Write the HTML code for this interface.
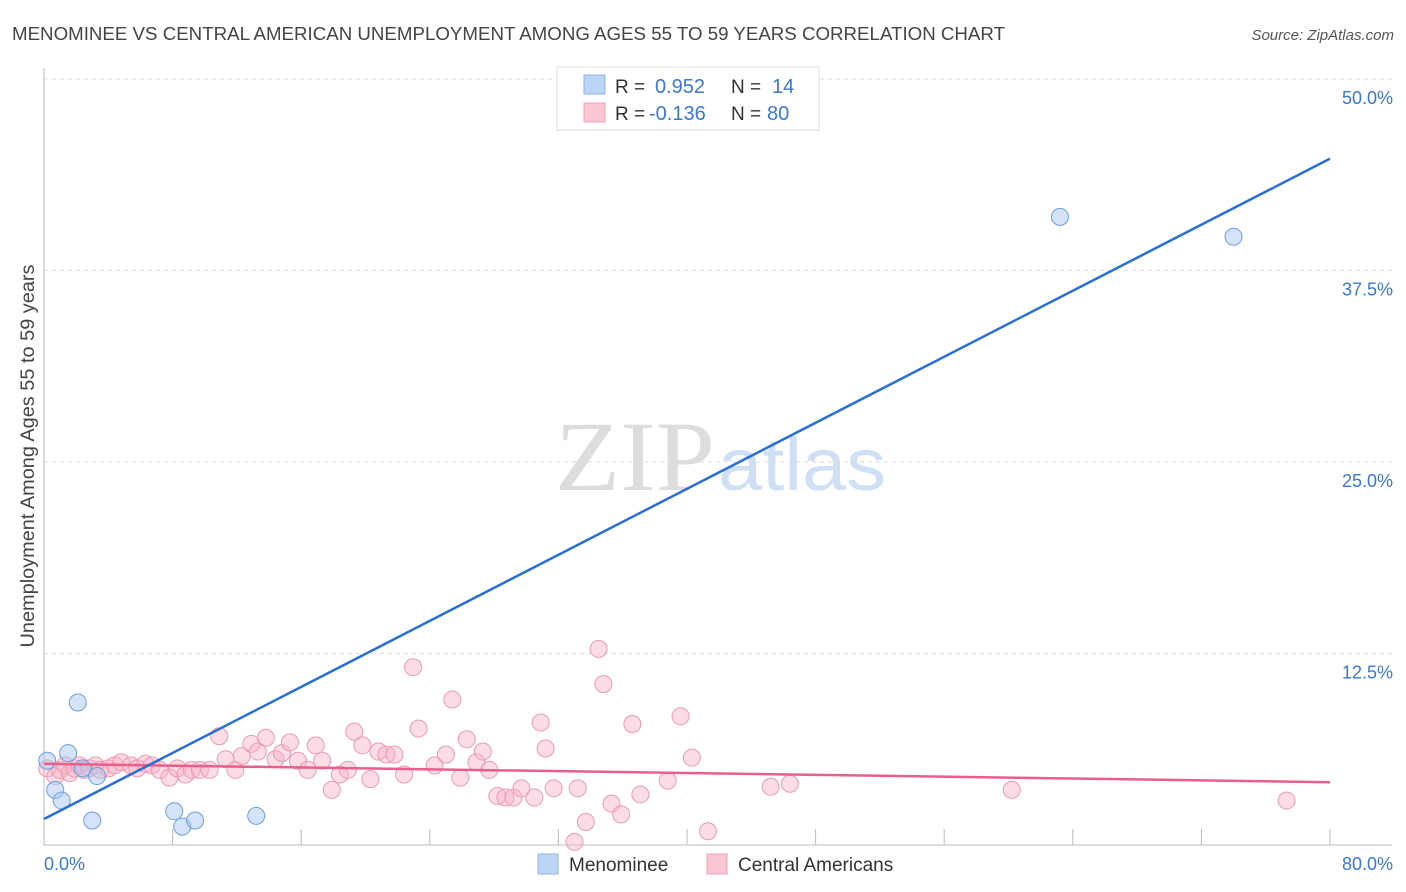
<!DOCTYPE html>
<html><head><meta charset="utf-8"><style>
body{margin:0;background:#fff;font-family:"Liberation Sans",sans-serif;}
svg{display:block}
</style></head><body>
<svg width="1406" height="892">
<text x="12" y="40" font-size="18" fill="#444" textLength="993" lengthAdjust="spacingAndGlyphs">MENOMINEE VS CENTRAL AMERICAN UNEMPLOYMENT AMONG AGES 55 TO 59 YEARS CORRELATION CHART</text>
<text x="1394" y="40" font-size="15" fill="#555" font-style="italic" text-anchor="end">Source: ZipAtlas.com</text>
<text x="555" y="490" font-size="100" fill="#ddd" textLength="160" lengthAdjust="spacingAndGlyphs" font-family="Liberation Serif,serif">ZIP</text>
<text x="718" y="490" font-size="74" fill="#cfe0f4" textLength="168" lengthAdjust="spacingAndGlyphs">atlas</text>
<g id="grid"></g>
<line x1="44" y1="68" x2="44" y2="845" stroke="#bbb"/>
<line x1="44" y1="845" x2="1392" y2="845" stroke="#bbb"/>
<g id="xticks"></g>
<text x="34" y="456" font-size="19" fill="#444" text-anchor="middle" textLength="383" lengthAdjust="spacingAndGlyphs" transform="rotate(-90 34 456)">Unemployment Among Ages 55 to 59 years</text>
<text x="44" y="870" font-size="18" fill="#3a78d4">0.0%</text>
<text x="1393" y="870" font-size="18" fill="#3a78d4" text-anchor="end">80.0%</text>
<g id="pts"></g>
<g id="lines"></g>
<g>
<rect x="557" y="67" width="262" height="63" fill="#fff" stroke="#ddd"/>
<rect x="584" y="75" width="21" height="19" fill="#bcd4f6" stroke="#8fb2e6"/>
<rect x="584" y="103" width="21" height="19" fill="#fbc7d5" stroke="#f0a0b8"/>
<text x="615" y="93" font-size="19" fill="#333">R =</text>
<text x="655" y="93" font-size="20" fill="#3a78d4">0.952</text>
<text x="731" y="93" font-size="19" fill="#333">N =</text>
<text x="772" y="93" font-size="20" fill="#3a78d4">14</text>
<text x="615" y="120" font-size="19" fill="#333">R =</text>
<text x="649" y="120" font-size="20" fill="#3a78d4">-0.136</text>
<text x="731" y="120" font-size="19" fill="#333">N =</text>
<text x="767" y="120" font-size="20" fill="#3a78d4">80</text>
</g>
<g><rect x="538" y="854" width="20" height="20" fill="#bcd4f6" stroke="#8fb2e6"/><text x="569" y="871" font-size="19" fill="#333">Menominee</text></g>
<g><rect x="707" y="854" width="20" height="20" fill="#fbc7d5" stroke="#f0a0b8"/><text x="738" y="871" font-size="19" fill="#333">Central Americans</text></g>
</svg>
<script>
const yTicks=[12.5,25,37.5,50];
const yTickLabels=["12.5%","25.0%","37.5%","50.0%"];
const blueX=[0.2,0.7,1.1,1.5,2.1,2.4,3.0,3.3,8.1,8.6,9.4,13.2,63.2,74.0];
const blueY=[5.5,3.6,2.9,6.0,9.3,5.0,1.6,4.5,2.2,1.2,1.6,1.9,41.0,39.7];
const pinkX=[0.2,0.7,1.0,1.3,1.6,1.9,2.2,2.5,2.8,3.2,3.5,4.0,4.4,4.8,5.4,5.8,6.3,6.7,7.2,7.8,8.3,8.8,9.2,9.7,10.3,10.9,11.3,11.9,12.3,12.9,13.3,13.8,14.4,14.8,15.3,15.8,16.4,16.9,17.3,17.9,18.4,18.9,19.3,19.8,20.3,20.8,21.3,21.8,22.4,22.96,23.3,24.3,25.0,25.4,25.9,26.3,26.9,27.3,27.7,28.2,28.7,29.2,29.7,30.5,30.9,31.2,31.7,33.0,33.2,33.7,34.5,34.8,35.3,35.9,36.6,37.1,38.8,39.6,40.3,41.3,45.2,46.4,60.2,77.3];
const pinkY=[5.0,4.5,4.9,5.2,4.7,5.0,5.2,4.9,5.0,5.2,4.9,5.0,5.2,5.4,5.2,5.0,5.3,5.2,4.9,4.4,5.0,4.6,4.9,4.9,4.9,7.1,5.6,4.9,5.8,6.6,6.1,7.0,5.6,6.0,6.7,5.5,4.9,6.5,5.5,3.6,4.6,4.9,7.4,6.5,4.3,6.1,5.9,5.9,4.6,11.6,7.6,5.2,5.9,9.5,4.4,6.9,5.4,6.1,4.9,3.2,3.1,3.1,3.7,3.1,8.0,6.3,3.7,0.2,3.7,1.5,12.8,10.5,2.7,2.0,7.9,3.3,4.2,8.4,5.7,0.9,3.8,4.0,3.6,2.9];
const blueFit=[1.7,44.8];
const pinkFit=[5.3,4.1];
const NS="http://www.w3.org/2000/svg";
const X0=44,X1=1330,Y0=845,Y50=79;
const sx=v=>X0+(v/80)*(X1-X0);
const sy=v=>Y0-(v/50)*(Y0-Y50);
function mk(t,a,p){const e=document.createElementNS(NS,t);for(const k in a)e.setAttribute(k,a[k]);p.appendChild(e);return e;}
const grid=document.getElementById('grid');
yTicks.forEach((t,i)=>{
 const l=mk('line',{x1:44,x2:1392,y1:sy(t),y2:sy(t),stroke:'#ddd','stroke-dasharray':'4,4'},grid);
 
 
 const tx=mk('text',{x:1393,y:sy(t)+25,'font-size':18,fill:'#3a78d4','text-anchor':'end'},grid);
 tx.textContent=yTickLabels[i];
 
 
});
const xt=document.getElementById('xticks');
for(let i=1;i<=10;i++){
 const l=mk('line',{x1:sx(i*8),x2:sx(i*8),y1:829,y2:845,stroke:'#bbb'},xt);
 
 
}
const pts=document.getElementById('pts');
pinkX.forEach((x,i)=>{
 const c=mk('circle',{cx:sx(x),cy:sy(pinkY[i]),r:8.5,fill:'rgba(248,180,200,0.45)',stroke:'#ec9ab3','stroke-width':1},pts);
 
 
});
blueX.forEach((x,i)=>{
 const c=mk('circle',{cx:sx(x),cy:sy(blueY[i]),r:8.5,fill:'rgba(170,200,240,0.5)',stroke:'#6e9fe0','stroke-width':1},pts);
 
 
});
const lines=document.getElementById('lines');
const pl=mk('line',{x1:sx(0),y1:sy(pinkFit[0]),x2:sx(80),y2:sy(pinkFit[1]),stroke:'#e8608a','stroke-width':2.5},lines);


const bl=mk('line',{x1:sx(0),y1:sy(blueFit[0]),x2:sx(80),y2:sy(blueFit[1]),stroke:'#2a6fd6','stroke-width':2.5},lines);


</script>
</body></html>
